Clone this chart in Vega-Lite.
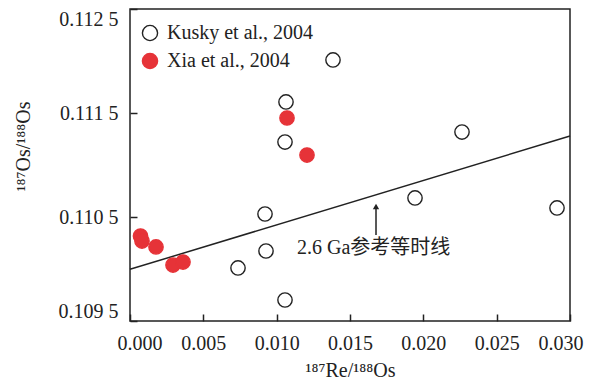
{
  "$schema": "https://vega.github.io/schema/vega-lite/v6.json",
  "width": 440,
  "height": 312,
  "autosize": {"type": "none"},
  "padding": {"left": 130, "top": 9, "right": 26, "bottom": 67},
  "background": "white",
  "config": {
    "font": "Liberation Serif, Noto Sans CJK SC",
    "view": {"stroke": "#222222", "strokeWidth": 1.5},
    "axis": {
      "grid": false,
      "domain": false,
      "tickColor": "#222222",
      "tickWidth": 1.5,
      "tickSize": -7,
      "labelColor": "#222222",
      "labelFont": "Liberation Serif",
      "labelFontSize": 20,
      "titleFont": "Liberation Serif",
      "titleFontSize": 20,
      "titleColor": "#222222",
      "titleFontWeight": "normal"
    },
    "legend": {"labelFont": "Liberation Serif"}
  },
  "datasets": {
    "points": [
      {"x": 0.013841, "y": 0.11201, "source": "Kusky et al., 2004"},
      {"x": 0.010636, "y": 0.111606, "source": "Kusky et al., 2004"},
      {"x": 0.010568, "y": 0.111221, "source": "Kusky et al., 2004"},
      {"x": 0.022636, "y": 0.111317, "source": "Kusky et al., 2004"},
      {"x": 0.019432, "y": 0.110683, "source": "Kusky et al., 2004"},
      {"x": 0.029114, "y": 0.110587, "source": "Kusky et al., 2004"},
      {"x": 0.009205, "y": 0.110529, "source": "Kusky et al., 2004"},
      {"x": 0.009273, "y": 0.110173, "source": "Kusky et al., 2004"},
      {"x": 0.007364, "y": 0.11001, "source": "Kusky et al., 2004"},
      {"x": 0.010568, "y": 0.109702, "source": "Kusky et al., 2004"},
      {"x": 0.000716, "y": 0.110317, "source": "Xia et al., 2004"},
      {"x": 0.000818, "y": 0.110269, "source": "Xia et al., 2004"},
      {"x": 0.001773, "y": 0.110212, "source": "Xia et al., 2004"},
      {"x": 0.002932, "y": 0.110038, "source": "Xia et al., 2004"},
      {"x": 0.003614, "y": 0.110067, "source": "Xia et al., 2004"},
      {"x": 0.010705, "y": 0.111452, "source": "Xia et al., 2004"},
      {"x": 0.012068, "y": 0.111096, "source": "Xia et al., 2004"}
    ],
    "isochron": [{"x": 0, "y": 0.109997}, {"x": 0.03, "y": 0.111279}],
    "arrow": [{"x": 0.016773, "y": 0.1106, "y2": 0.110327}],
    "note": [{"x": 0.011386, "y": 0.110202, "label": "2.6 Ga参考等时线"}]
  },
  "encoding": {
    "x": {
      "field": "x",
      "type": "quantitative",
      "scale": {"domain": [0, 0.03], "nice": false, "zero": false},
      "axis": {
        "title": "¹⁸⁷Re/¹⁸⁸Os",
        "values": [0, 0.005, 0.01, 0.015, 0.02, 0.025, 0.03],
        "format": ".3f",
        "labelFlush": true,
        "labelFlushOffset": 13,
        "labelPadding": 19,
        "titleY": 55,
        "titleBaseline": "alphabetic"
      }
    },
    "y": {
      "field": "y",
      "type": "quantitative",
      "scale": {"domain": [0.1095, 0.1125], "nice": false, "zero": false},
      "axis": {
        "title": "¹⁸⁷Os/¹⁸⁸Os",
        "values": [0.1095, 0.1105, 0.1115, 0.1125],
        "labelExpr": "slice(format(datum.value, '.4f'), 0, 5) + ' ' + slice(format(datum.value, '.4f'), 5)",
        "labelFlush": true,
        "labelPadding": 19,
        "titleX": -107,
        "titleY": 137,
        "titleAngle": -90,
        "titleAlign": "center",
        "titleBaseline": "middle"
      }
    }
  },
  "layer": [
    {
      "data": {"name": "isochron"},
      "mark": {"type": "line", "color": "#222222", "strokeWidth": 1.5},
      "encoding": {}
    },
    {
      "data": {"name": "arrow"},
      "mark": {"type": "rule", "color": "#222222", "strokeWidth": 1.5},
      "encoding": {"y2": {"field": "y2"}}
    },
    {
      "data": {"name": "arrow"},
      "mark": {"type": "point", "shape": "triangle-up", "filled": true, "size": 40, "color": "#222222", "opacity": 1},
      "encoding": {}
    },
    {
      "data": {"name": "note"},
      "mark": {"type": "text", "align": "left", "baseline": "middle", "fontSize": 20, "color": "#222222", "font": "Liberation Serif, Noto Sans CJK SC"},
      "encoding": {"text": {"field": "label"}}
    },
    {
      "data": {"name": "points"},
      "mark": {"type": "point", "shape": "circle", "filled": true, "size": 205, "strokeWidth": 1.4, "opacity": 1},
      "encoding": {
        "fill": {
          "field": "source",
          "type": "nominal",
          "scale": {"domain": ["Kusky et al., 2004", "Xia et al., 2004"], "range": ["transparent", "#e63338"]},
          "legend": {
            "orient": "none",
            "legendX": 10,
            "legendY": 14,
            "title": null,
            "padding": 0,
            "labelFontSize": 20,
            "labelColor": "#222222",
            "labelOffset": 7,
            "symbolSize": 230,
            "symbolStrokeWidth": 1.4,
            "rowPadding": 6
          }
        },
        "stroke": {
          "field": "source",
          "type": "nominal",
          "scale": {"domain": ["Kusky et al., 2004", "Xia et al., 2004"], "range": ["#222222", "#e63338"]},
          "legend": {
            "orient": "none",
            "legendX": 10,
            "legendY": 14,
            "title": null,
            "padding": 0,
            "labelFontSize": 20,
            "labelColor": "#222222",
            "labelOffset": 7,
            "symbolSize": 230,
            "symbolStrokeWidth": 1.4,
            "rowPadding": 6
          }
        }
      }
    }
  ]
}
